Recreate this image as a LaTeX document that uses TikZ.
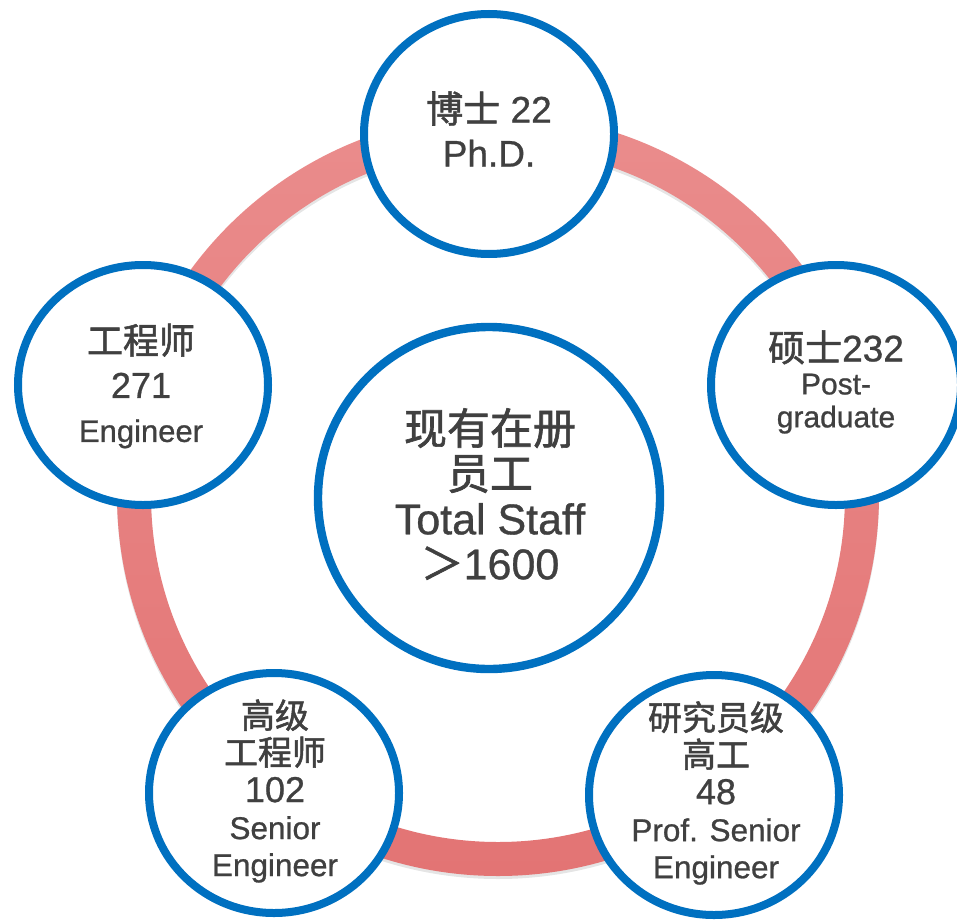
\documentclass[tikz,border=0pt]{standalone}
\usepackage{fontspec}
\setmainfont[FakeBold=0.8]{Liberation Sans}
\newfontfamily\cjk[FakeBold=1.5]{Noto Sans CJK SC}
\usetikzlibrary{shapes.geometric,shadows}
\definecolor{ringtop}{HTML}{EA8C8C}
\definecolor{ringbot}{HTML}{E37474}
\definecolor{cblue}{HTML}{0070C0}
\definecolor{tgray}{HTML}{404040}
\tikzset{
  softshadow/.style={drop shadow={shadow xshift=0pt, shadow yshift=-1.5pt, opacity=0.18, fill=black}},
  bubble/.style={ellipse, draw=cblue, line width=4pt, fill=white, minimum width=125pt, minimum height=120pt, inner sep=0pt, softshadow},
  hub/.style={circle, draw=cblue, line width=4.2pt, fill=white, minimum size=171pt, inner sep=0pt, softshadow},
  txtbox/.style={align=center, inner sep=0pt, text=tgray},
}
\begin{document}
\begin{tikzpicture}[x=0.5pt,y=-0.5pt]
\useasboundingbox (0,0) rectangle (957,920);
\fill[white] (0,0) rectangle (957,920);
% ring
\coordinate (ringc) at (498,495);
\fill[black, opacity=0.10, even odd rule] ([yshift=-1.5pt]ringc) circle[radius=381] ([yshift=-1.5pt]ringc) circle[radius=347];
\shade[top color=ringtop, bottom color=ringbot, even odd rule] (ringc) circle[radius=381] (ringc) circle[radius=347];
% circles
\node[hub] (hub) at (489,498) {};
\node[bubble] (phd) at (489,134) {};
\node[bubble] (pg) at (836,385) {};
\node[bubble] (eng) at (143,385) {};
\node[bubble] (seng) at (274,793) {};
\node[bubble] (pseng) at (714,795) {};
% texts
\node[txtbox, font=\fontsize{21.5}{22.5}\selectfont] (hubt) at (490,494)
  {{\cjk 现有在册}\\{\cjk 员工}\\Total Staff\\{\cjk ＞}1600};
\node[txtbox, font=\fontsize{18.5}{22}\selectfont] (phdt) at (489,129)
  {{\cjk 博士} 22\\Ph.D.};
\node[txtbox, font=\fontsize{15}{16.5}\selectfont] (pgt) at (836,382)
  {{\fontsize{18.5}{16.5}\selectfont{\cjk 硕士}232}\\Post-\\graduate};
\node[txtbox, font=\fontsize{18}{22}\selectfont] (engt) at (141,386)
  {{\cjk 工程师}\\271\\{\fontsize{15.5}{22}\selectfont Engineer}};
\node[txtbox, font=\fontsize{15.75}{18.5}\selectfont] (sengt) at (275,791)
  {{\fontsize{17}{18.5}\selectfont\cjk 高级}\\{\fontsize{17}{18.5}\selectfont\cjk 工程师}\\{\fontsize{18}{18.5}\selectfont 102}\\Senior\\Engineer};
\node[txtbox, font=\fontsize{15.75}{18.5}\selectfont] (psengt) at (716,793)
  {{\fontsize{17}{18.5}\selectfont\cjk 研究员级}\\{\fontsize{17}{18.5}\selectfont\cjk 高工}\\{\fontsize{18}{18.5}\selectfont 48}\\Prof. Senior\\Engineer};
\end{tikzpicture}
\end{document}
